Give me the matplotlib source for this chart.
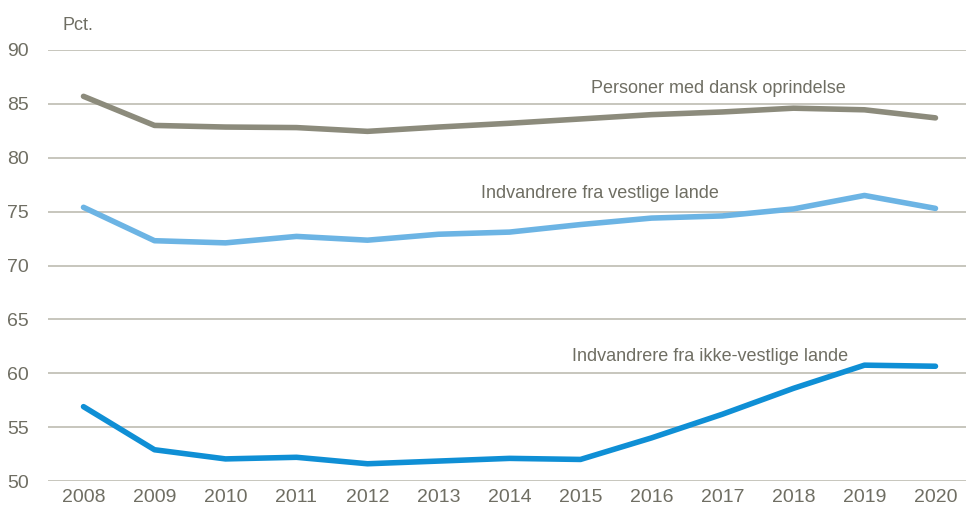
import matplotlib.pyplot as plt
from matplotlib import font_manager

years = list(range(2008, 2021))
dansk = [85.7, 83.0, 82.85, 82.8, 82.45, 82.85, 83.2, 83.6, 84.0, 84.25, 84.6, 84.45, 83.7]
vestlige = [75.4, 72.3, 72.1, 72.7, 72.35, 72.9, 73.1, 73.8, 74.4, 74.6, 75.25, 76.5, 75.3]
ikke_vestlige = [56.9, 52.9, 52.05, 52.2, 51.6, 51.85, 52.1, 52.0, 54.0, 56.2, 58.6, 60.75, 60.65]

names = {f.name for f in font_manager.fontManager.ttflist}
family = "Liberation Sans Narrow" if "Liberation Sans Narrow" in names else "Liberation Sans"
plt.rcParams["font.family"] = [family, "DejaVu Sans"]

text_col = "#6f6e63"
grid_col = "#bdbcb2"

fig = plt.figure(figsize=(9.66, 5.16), dpi=100)
ax = fig.add_axes([48 / 966, 35 / 516, 918 / 966, 431 / 516])

ax.plot(years, dansk, color="#8c8b7c", lw=4, solid_capstyle="round")
ax.plot(years, vestlige, color="#6cb4e4", lw=4, solid_capstyle="round")
ax.plot(years, ikke_vestlige, color="#0f8fd5", lw=4, solid_capstyle="round")

ax.set_xlim(2007.5, 2020.43)
ax.set_ylim(50, 90)
ax.set_yticks(range(50, 91, 5))
ax.set_xticks(years)
ax.grid(axis="y", color=grid_col, lw=1.2)
ax.set_axisbelow(True)
for s in ax.spines.values():
    s.set_visible(False)
ax.tick_params(length=0, labelsize=14, colors=text_col)
ax.tick_params(axis="y", pad=14)
ax.tick_params(axis="x", pad=6)

fs = 13
ax.text(2016.94, 86.45, "Personer med dansk oprindelse", fontsize=fs, color=text_col, ha="center", va="center")
ax.text(2015.28, 76.7, "Indvandrere fra vestlige lande", fontsize=fs, color=text_col, ha="center", va="center")
ax.text(2016.83, 61.6, "Indvandrere fra ikke-vestlige lande", fontsize=fs, color=text_col, ha="center", va="center")
fig.text(62 / 966, 1 - 25 / 516, "Pct.", fontsize=fs, color=text_col, ha="left", va="center")

fig.savefig("out.png", dpi=100)
